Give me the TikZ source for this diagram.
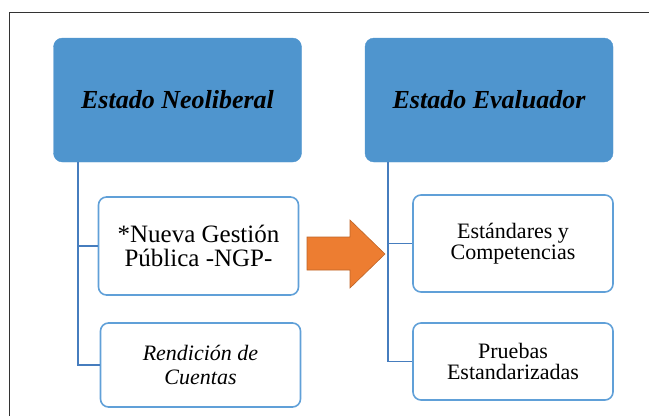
\documentclass[tikz,border=0pt]{standalone}
\usepackage{fontspec}
\newfontfamily\figfont{Liberation Serif}
\definecolor{headblue}{RGB}{79,149,206}
\definecolor{edgeblue}{RGB}{96,160,216}
\definecolor{trunkblue}{RGB}{70,125,190}
\definecolor{shiftorange}{RGB}{237,125,49}
\begin{document}
\begin{tikzpicture}[
  x=1pt, y=-1pt,
  head/.style={draw=headblue, fill=headblue, rounded corners=9pt, minimum width=248pt, minimum height=124pt, align=center, font=\figfont\fontsize{26}{30}\selectfont\bfseries\itshape},
  item/.style={draw=edgeblue, line width=1.6pt, rounded corners=8pt, minimum width=200pt, align=center, font=\figfont\fontsize{22}{21}\selectfont},
  trunk/.style={draw=trunkblue, line width=1.5pt}
]
\useasboundingbox (0,0) rectangle (649,416);
\draw[line width=1pt, black!80] (9,416) -- (9,12) -- (649,12);

\node[head] (neo) at (177.5,100) {Estado Neoliberal};
\node[head] (eval) at (489,100) {Estado Evaluador};

\node[item, minimum height=98pt, font=\figfont\fontsize{25}{24}\selectfont] (ngp) at (198.5,246) {*Nueva Gestión\\Pública -NGP-};
\node[item, minimum height=84pt, font=\figfont\fontsize{22}{24}\selectfont\itshape] (rend) at (200.5,365) {Rendición de\\Cuentas};
\node[item, minimum height=97pt] (estd) at (513,243.5) {Estándares y\\Competencias};
\node[item, minimum height=77pt] (prue) at (513,361.5) {Pruebas\\Estandarizadas};

\coordinate (lt) at (78,0);
\coordinate (rt) at (388,0);
\draw[trunk] (neo.south -| lt) -- (rend.west -| lt) -- (rend.west);
\draw[trunk] (ngp.west -| lt) -- (ngp.west);
\draw[trunk] (eval.south -| rt) -- (prue.west -| rt) -- (prue.west);
\draw[trunk] (estd.west -| rt) -- (estd.west);

% arrow between the two columns
\draw[fill=shiftorange, draw=shiftorange!80!black, line width=0.6pt]
  (307,237) -- (350,237) -- (350,220) -- (385,254) -- (350,288) -- (350,270) -- (307,270) -- cycle;
\end{tikzpicture}
\end{document}
